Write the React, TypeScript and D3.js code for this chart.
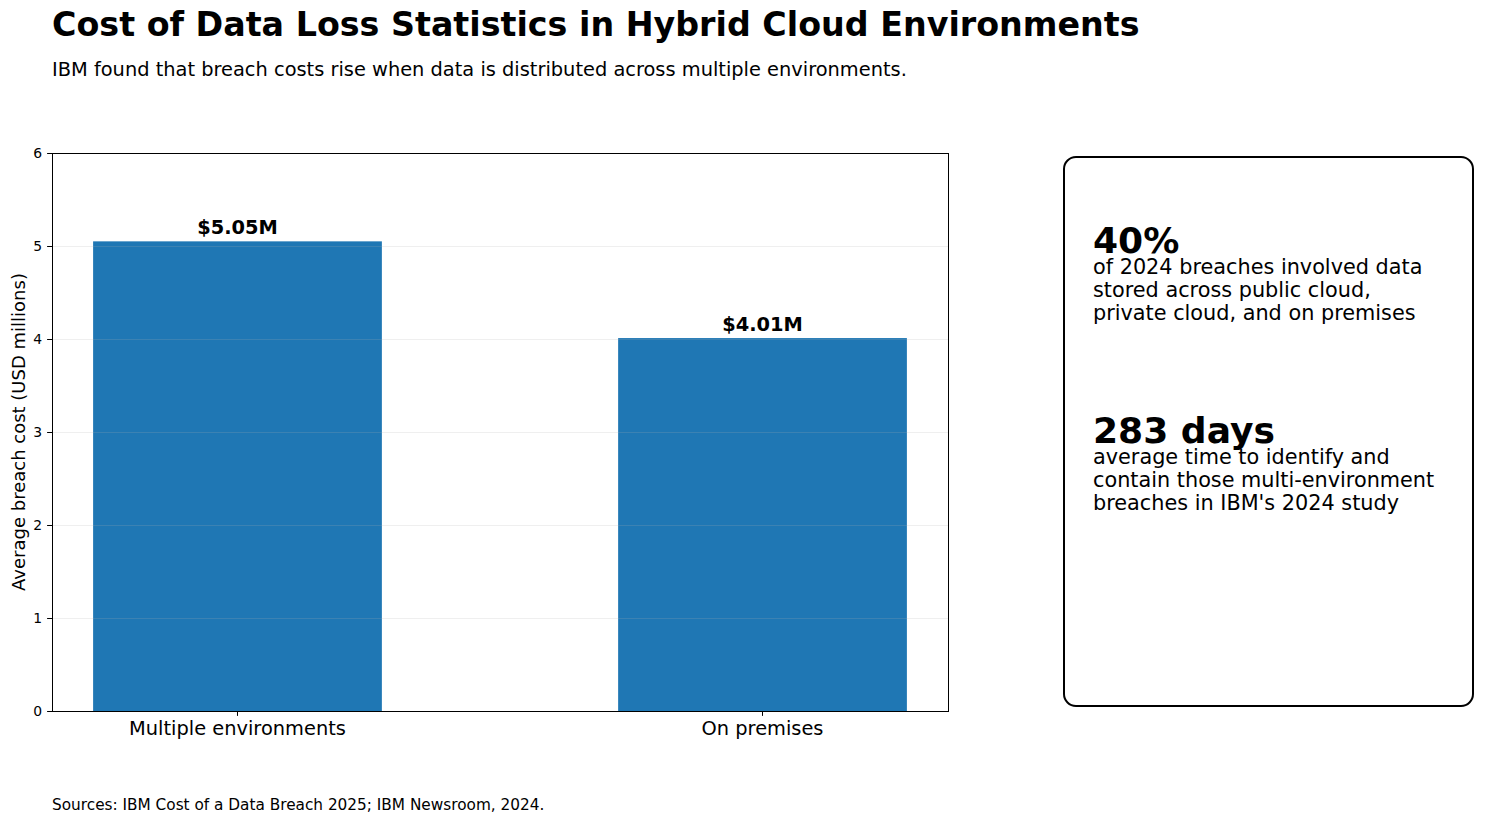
import React, { useRef, useEffect } from "react";
import * as d3 from "d3";

const categories = ["Multiple environments", "On premises"];
const costs = [5.05, 4.01];
const costLabels = ["$5.05M", "$4.01M"];
const yTicks = [0, 1, 2, 3, 4, 5, 6];
const statHeads = ["40%", "283 days"];
const statLines = [
  ["of 2024 breaches involved data", "stored across public cloud,", "private cloud, and on premises"],
  ["average time to identify and", "contain those multi-environment", "breaches in IBM's 2024 study"],
];

const FONT = "DejaVu Sans, sans-serif";

const App = () => {
  const svgRef = useRef(null);

  useEffect(() => {
    const svg = d3.select(svgRef.current);
    svg.selectAll("*").remove();

    const margin = { top: 153, left: 52 },
      width = 896,
      height = 558;

    // titles
    svg.append("text").attr("x", 52).attr("y", 36)
      .style("font-family", FONT).style("font-size", "33.3px").style("font-weight", "bold")
      .text("Cost of Data Loss Statistics in Hybrid Cloud Environments");
    svg.append("text").attr("x", 52).attr("y", 76)
      .style("font-family", FONT).style("font-size", "19.4px")
      .text("IBM found that breach costs rise when data is distributed across multiple environments.");

    const g = svg.append("g").attr("transform", `translate(${margin.left},${margin.top})`);

    const x = d3.scaleBand().domain(categories).range([0, width]).paddingInner(0.45).paddingOuter(0.0783);
    const y = d3.scaleLinear().domain([0, 6]).range([height, 0]);

    // bars
    g.selectAll(".bar")
      .data(costs)
      .join("rect")
      .attr("class", "bar")
      .attr("x", (d, i) => x(categories[i]))
      .attr("y", (d) => y(d))
      .attr("width", x.bandwidth())
      .attr("height", (d) => height - y(d))
      .attr("fill", "#1f77b4");

    // grid over the bars
    g.append("g")
      .selectAll("line")
      .data(yTicks)
      .join("line")
      .attr("x1", 0).attr("x2", width)
      .attr("y1", (d) => y(d) + 0.5).attr("y2", (d) => y(d) + 0.5)
      .attr("stroke", "#b0b0b0").attr("stroke-opacity", 0.25).attr("stroke-width", 0.8);

    // value labels
    g.selectAll(".valLabel")
      .data(costs)
      .join("text")
      .attr("class", "valLabel")
      .attr("x", (d, i) => x(categories[i]) + x.bandwidth() / 2)
      .attr("y", (d) => y(d) - 7)
      .attr("text-anchor", "middle")
      .style("font-family", FONT).style("font-size", "19.4px").style("font-weight", "bold")
      .text((d, i) => costLabels[i]);

    // y axis
    const yAxis = g.append("g")
      .call(d3.axisLeft(y).tickValues(yTicks).tickSize(4.9).tickPadding(4.9).tickFormat(d3.format("d")));
    yAxis.selectAll("text").style("font-family", FONT).style("font-size", "13.9px").attr("fill", "#000");
    yAxis.selectAll("line").attr("stroke", "#000");
    yAxis.select(".domain").remove();

    // x axis
    const xAxis = g.append("g").attr("transform", `translate(0,${height})`)
      .call(d3.axisBottom(x).tickSize(4.9).tickPadding(4.9));
    xAxis.selectAll("text").style("font-family", FONT).style("font-size", "19.4px").attr("fill", "#000");
    xAxis.selectAll("line").attr("stroke", "#000");
    xAxis.select(".domain").remove();

    // frame
    g.append("rect").attr("x", 0.5).attr("y", 0.5).attr("width", width).attr("height", height)
      .attr("fill", "none").attr("stroke", "#000").attr("stroke-width", 1);

    // y label
    svg.append("text")
      .attr("transform", `translate(25,${margin.top + height / 2}) rotate(-90)`)
      .attr("text-anchor", "middle")
      .style("font-family", FONT).style("font-size", "18px")
      .text("Average breach cost (USD millions)");

    // side box
    svg.append("rect").attr("x", 1064).attr("y", 157).attr("width", 409).attr("height", 549)
      .attr("rx", 12).attr("ry", 12)
      .attr("fill", "none").attr("stroke", "#000").attr("stroke-width", 2);

    const headY = [253, 443];
    statHeads.forEach((h, i) => {
      svg.append("text").attr("x", 1093).attr("y", headY[i])
        .style("font-family", FONT).style("font-size", "36.1px").style("font-weight", "bold")
        .text(h);
      statLines[i].forEach((line, j) => {
        svg.append("text").attr("x", 1093).attr("y", headY[i] + 20.5 + j * 23.4)
          .style("font-family", FONT).style("font-size", "20.8px")
          .text(line);
      });
    });

    svg.append("text").attr("x", 52).attr("y", 810)
      .style("font-family", FONT).style("font-size", "15.3px")
      .text("Sources: IBM Cost of a Data Breach 2025; IBM Newsroom, 2024.");
  }, []);

  return (
    <svg
      ref={svgRef}
      width={1486}
      height={823}
      style={{ position: "absolute", left: 0, top: 0, background: "#fff" }}
    ></svg>
  );
};

export default App;
